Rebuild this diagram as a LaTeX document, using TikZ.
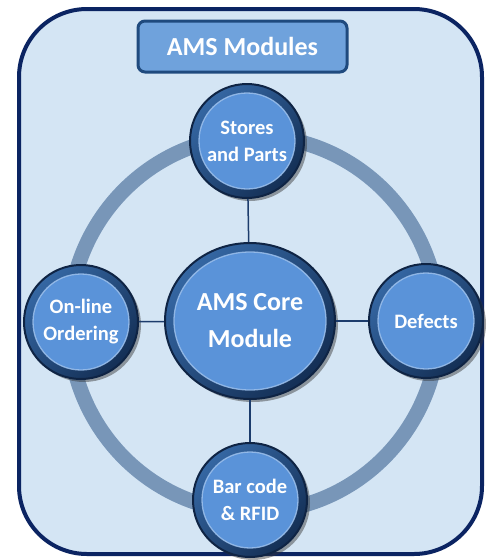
\documentclass[tikz,border=0pt]{standalone}
\usepackage{fontspec}
\setmainfont{Carlito}
\usetikzlibrary{shapes.geometric,shadows,calc}
\definecolor{bgblue}{HTML}{D4E5F4}
\definecolor{navy}{HTML}{0B2462}
\definecolor{ringc}{HTML}{7896B8}
\definecolor{rimlight}{HTML}{3567A3}
\definecolor{rimdark}{HTML}{142F55}
\definecolor{rimedge}{HTML}{0F2444}
\definecolor{modfill}{HTML}{5A93D9}
\definecolor{hilite}{HTML}{9CC0EC}
\definecolor{titlefill}{HTML}{6FA2DC}
\definecolor{titleedge}{HTML}{1F4A7E}
\definecolor{linkc}{HTML}{1C3C6C}
\begin{document}
\begin{tikzpicture}[x=1pt,y=-1pt,
  modbtn/.style={inner sep=0pt, text=white, align=center,
    left color=rimlight, right color=rimdark, shading angle=45,
    draw=rimedge, line width=2pt,
    drop shadow={opacity=0.45, shadow xshift=3pt, shadow yshift=-3pt, fill=black!80},
    path picture={
      \fill[modfill] let \p1=(path picture bounding box.north east), \p2=(path picture bounding box.center)
        in (\p2) ellipse [x radius={\x1-\x2-9pt}, y radius={\y1-\y2-9pt}];
      \draw[hilite, line width=1.3pt, opacity=0.85] let \p1=(path picture bounding box.north east), \p2=(path picture bounding box.center)
        in (\p2) ellipse [x radius={\x1-\x2-9pt}, y radius={\y1-\y2-9pt}];
    }},
  smallbtn/.style={modbtn, circle, minimum size=114pt, font=\fontsize{20.5}{27}\selectfont\bfseries},
  corebtn/.style={modbtn, ellipse, minimum width=170pt, minimum height=156pt, font=\fontsize{26}{37}\selectfont\bfseries},
  titlebox/.style={rectangle, rounded corners=7pt, fill=titlefill, draw=titleedge, line width=3pt,
    minimum width=209pt, minimum height=51pt, text=white, font=\fontsize{26}{30}\selectfont\bfseries},
  link/.style={draw=linkc, line width=1.5pt},
  ringline/.style={draw=ringc, line width=15pt}
]
\useasboundingbox (0,0) rectangle (489,560);
\fill[white] (0,0) rectangle (489,560);
\draw[navy, line width=4pt, fill=bgblue, rounded corners=68pt] (19,9) rectangle (482,554);
\coordinate (rc) at (254,324);
\draw[ringline] (rc) ellipse [x radius=185pt, y radius=188pt];
\node[titlebox] (title) at (242.5,46.5) {AMS Modules};
\node[corebtn] (core) at (250,321) {AMS Core\\Module};
\node[smallbtn] (stores) at (247,141) {Stores\\and Parts};
\node[smallbtn] (online) at (81,322) {On-line\\Ordering};
\node[smallbtn] (defects) at (426,321) {Defects};
\node[smallbtn] (bar) at (250,500) {Bar code\\\& RFID};
\draw[link] (stores) -- (core);
\draw[link] (online) -- (core);
\draw[link] (core) -- (defects);
\draw[link] (core) -- (bar);
\end{tikzpicture}
\end{document}
